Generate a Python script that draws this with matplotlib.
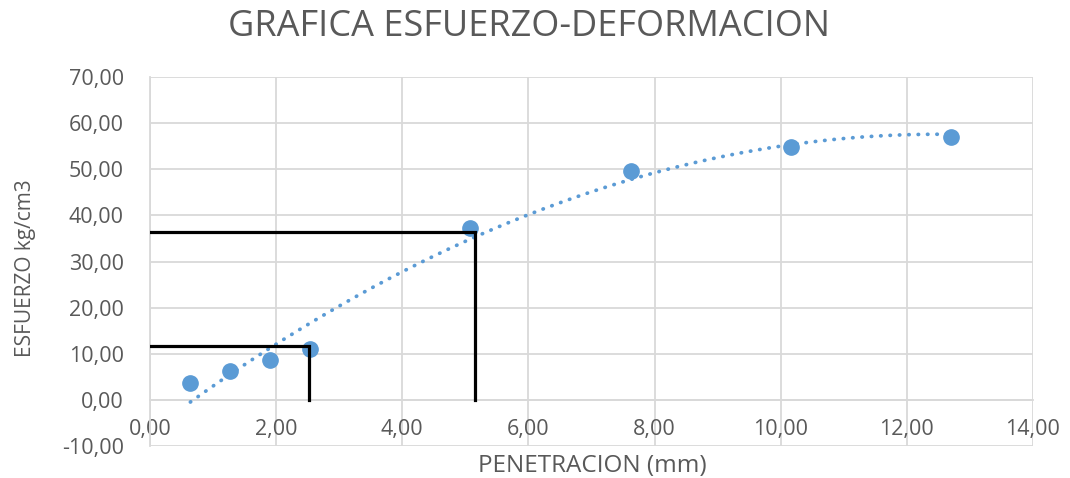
import numpy as np
import matplotlib
matplotlib.use('Agg')
import matplotlib.pyplot as plt
from matplotlib.ticker import FuncFormatter

# Ensayo: penetracion (mm) vs esfuerzo (kg/cm3)
penetracion = [0.64, 1.27, 1.91, 2.54, 5.08, 7.62, 10.16, 12.70]
esfuerzo = [3.6, 6.3, 8.7, 11.1, 37.3, 49.7, 54.8, 57.1]

# lecturas marcadas en el grafico (0.1" y 0.2")
lectura_x = [2.52, 5.15]
lectura_y = [11.7, 36.5]

gris = '#595959'
azul = '#5B9BD5'
plt.rcParams['font.family'] = ['Open Sans', 'DejaVu Sans']

fig = plt.figure(figsize=(10.7, 4.78), dpi=100)
ax = fig.add_axes([0.1402, 0.0669, 0.8252, 0.772])

# linea de tendencia polinomica de orden 2 (como Excel)
coef = np.polyfit(penetracion, esfuerzo, 2)
xt = np.linspace(penetracion[0], penetracion[-1], 200)
ax.plot(xt, np.polyval(coef, xt), color=azul, lw=2.7, linestyle=(0, (0.1, 2.4)),
        dash_capstyle='round', zorder=3)

ax.plot(penetracion, esfuerzo, 'o', color=azul, ms=11, zorder=4)

for lx, ly in zip(lectura_x, lectura_y):
    ax.plot([0, lx, lx], [ly, ly, 0], color='black', lw=2.3, zorder=5,
            solid_joinstyle='miter')

ax.set_xlim(0, 14)
ax.set_ylim(-10, 70)
ax.set_xticks(np.arange(0, 15, 2))
ax.set_yticks(np.arange(-10, 71, 10))
fmt = FuncFormatter(lambda v, p: f'{v:.2f}'.replace('.', ','))
ax.xaxis.set_major_formatter(fmt)
ax.yaxis.set_major_formatter(fmt)
ax.grid(True, color='#d9d9d9', lw=1.3, zorder=0)
ax.set_axisbelow(True)
for s in ['top', 'right']:
    ax.spines[s].set_visible(False)
ax.spines['left'].set_color('#d9d9d9')
ax.spines['left'].set_linewidth(1.3)
ax.spines['bottom'].set_position(('data', 0))
ax.spines['bottom'].set_color('#d9d9d9')
ax.spines['bottom'].set_linewidth(1.3)
ax.tick_params(length=0, labelsize=15.5, labelcolor=gris)
ax.tick_params(axis='x', pad=14)
ax.tick_params(axis='y', pad=19)

fig.text(0.494, 0.943, 'GRAFICA ESFUERZO-DEFORMACION', ha='center', va='center',
         fontsize=26, color=gris)
fig.text(0.554, 0.025, 'PENETRACION (mm)', ha='center', va='center', fontsize=17.5, color=gris)
fig.text(0.024, 0.439, 'ESFUERZO kg/cm3', ha='center', va='center', rotation=90,
         fontsize=15, color=gris)

fig.savefig('out.png', dpi=100)
